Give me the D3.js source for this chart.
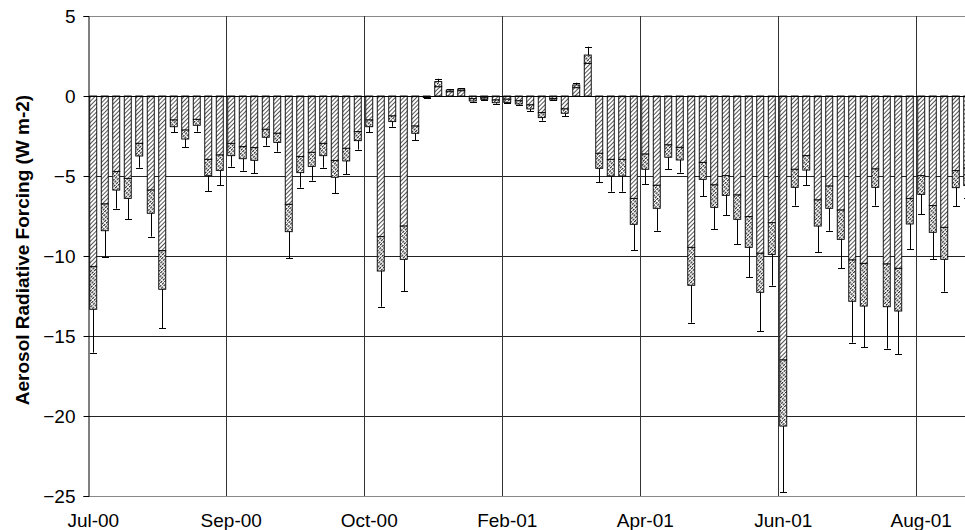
<!DOCTYPE html>
<html><head><meta charset="utf-8">
<script src="https://cdn.jsdelivr.net/npm/d3@7"></script>
<style>
html,body{margin:0;padding:0;background:#fff;overflow:hidden}
svg{display:block;font-family:"Liberation Sans",Arial,Helvetica,sans-serif}
</style>
</head><body>
<svg id="chart" width="965" height="530"></svg>
<script>
// Observation index (one bar per observation)
const categories = d3.range(1, 78);
// End of the first (lightly hatched) segment, W m-2
const firstSegment = [
 -10.67,-6.75,-4.73,-5.15,-2.96,-5.88,-9.67,-1.5,-2.13,-1.46,-3.96,-3.69,
 -2.96,-3.17,-3.23,-2.08,-2.33,-6.77,-3.79,-3.52,-2.96,-4.04,-3.27,-2.23,
 -1.5,-8.79,-1.25,-8.13,-1.88,-0.05,0.58,0.27,0.33,-0.17,-0.12,-0.25,
 -0.2,-0.3,-0.56,-1.04,-0.15,-0.81,0.52,2.04,-3.58,-3.96,-3.96,-6.4,
 -3.63,-5.58,-3.06,-3.21,-9.46,-4.15,-5.56,-4.98,-6.19,-7.54,-9.83,-7.92,
 -16.5,-4.58,-3.73,-6.5,-5.63,-7.13,-10.25,-10.46,-4.56,-10.5,-10.77,-6.4,
 -4.98,-6.85,-8.21,-4.67,-4.5
];
// Total forcing (end of the densely hatched segment), W m-2
const totalForcing = [
 -13.33,-8.42,-5.88,-6.4,-3.75,-7.33,-12.08,-1.92,-2.69,-1.83,-4.98,-4.65,
 -3.73,-3.92,-4.02,-2.58,-2.9,-8.48,-4.79,-4.4,-3.73,-5.08,-4.06,-2.79,
 -1.92,-10.94,-1.6,-10.21,-2.33,-0.1,0.9,0.38,0.44,-0.31,-0.21,-0.42,
 -0.4,-0.5,-0.81,-1.35,-0.25,-1.08,0.69,2.56,-4.52,-5.0,-5.0,-8.02,
 -4.58,-7.02,-3.83,-4.0,-11.83,-5.21,-6.96,-6.21,-7.71,-9.46,-12.27,-9.9,
 -20.63,-5.71,-4.63,-8.13,-7.02,-8.96,-12.83,-13.13,-5.71,-13.17,-13.44,-8.0,
 -6.15,-8.52,-10.21,-5.73,-5.6
];
// Outer end of the one-sided error bar, W m-2
const errorLimit = [
 -16.04,-10.08,-7.04,-7.71,-4.48,-8.79,-14.5,-2.27,-3.19,-2.23,-5.94,-5.56,
 -4.42,-4.67,-4.83,-3.1,-3.48,-10.15,-5.73,-5.29,-4.48,-6.08,-4.88,-3.35,
 -2.27,-13.17,-1.92,-12.19,-2.75,-0.12,1.08,0.42,0.48,-0.35,-0.24,-0.48,
 -0.45,-0.54,-0.94,-1.54,-0.28,-1.25,0.83,3.08,-5.4,-5.98,-5.98,-9.63,
 -5.5,-8.42,-4.58,-4.79,-14.17,-6.25,-8.31,-7.44,-9.25,-11.33,-14.69,-11.85,
 -24.75,-6.85,-5.56,-9.75,-8.42,-10.77,-15.42,-15.71,-6.85,-15.79,-16.15,-9.58,
 -7.4,-10.21,-12.23,-6.88,-6.4
];
const tickCategories = [1, 13, 25, 37, 49, 61, 73];
const tickLabels = ["Jul-00","Sep-00","Oct-00","Feb-01","Apr-01","Jun-01","Aug-01"];
const yTickValues = [5, 0, -5, -10, -15, -20, -25];
const yTitle = "Aerosol Radiative Forcing (W m-2)";

const svg = d3.select("#chart");
const plotLeft = 87.5, plotTop = 16, plotBottom = 496;
const step = 11.5;

const x = d3.scaleBand().domain(categories)
  .range([plotLeft, plotLeft + step * categories.length]).padding(0);
const y = d3.scaleLinear().domain([-25, 5]).range([plotBottom, plotTop]);
const barW = 7;

const defs = svg.append("defs");
const pA = defs.append("pattern").attr("id","hatchA").attr("patternUnits","userSpaceOnUse")
  .attr("width",3).attr("height",3).attr("patternTransform","rotate(45)");
pA.append("rect").attr("width",3).attr("height",3).attr("fill","#fff");
pA.append("line").attr("x1",0.5).attr("x2",0.5).attr("y1",0).attr("y2",3)
  .attr("stroke","#555").attr("stroke-width",1);
const pB = defs.append("pattern").attr("id","hatchB").attr("patternUnits","userSpaceOnUse")
  .attr("width",2.3).attr("height",3.5).attr("patternTransform","rotate(45)");
pB.append("rect").attr("width",2.3).attr("height",3.5).attr("fill","#fff");
pB.append("line").attr("x1",0.6).attr("x2",0.6).attr("y1",0).attr("y2",2.6)
  .attr("stroke","#222").attr("stroke-width",1.1);

const clip = defs.append("clipPath").attr("id","plotClip");
clip.append("rect").attr("x",0).attr("y",0).attr("width",965).attr("height",530);

// horizontal gridlines
svg.append("g").selectAll("line").data(yTickValues).join("line")
  .attr("x1", plotLeft).attr("x2", 965)
  .attr("y1", d => Math.round(y(d)) + 0.5).attr("y2", d => Math.round(y(d)) + 0.5)
  .attr("stroke", d => (d === 5 || d === -25) ? "#888" : "#222")
  .attr("stroke-width", 1);

// vertical gridlines at category boundaries
svg.append("g").selectAll("line").data(tickCategories.slice(1)).join("line")
  .attr("x1", d => Math.round(x(d)) + 0.5).attr("x2", d => Math.round(x(d)) + 0.5)
  .attr("y1", plotTop).attr("y2", plotBottom)
  .attr("stroke", "#333").attr("stroke-width", 1);

const cx = d => x(d) + x.bandwidth() / 2;
const data = categories.map((c, i) => ({c, a: firstSegment[i], b: totalForcing[i], e: errorLimit[i]}));

const gBars = svg.append("g").attr("clip-path","url(#plotClip)");
gBars.selectAll("rect.a").data(data).join("rect").attr("class","a")
  .attr("x", d => cx(d.c) - barW/2).attr("width", barW)
  .attr("y", d => Math.min(y(0), y(d.a))).attr("height", d => Math.abs(y(d.a) - y(0)))
  .attr("fill","url(#hatchA)").attr("stroke","#000").attr("stroke-width",0.9);
gBars.selectAll("rect.b").data(data).join("rect").attr("class","b")
  .attr("x", d => cx(d.c) - barW/2).attr("width", barW)
  .attr("y", d => Math.min(y(d.a), y(d.b))).attr("height", d => Math.abs(y(d.b) - y(d.a)))
  .attr("fill","url(#hatchB)").attr("stroke","#000").attr("stroke-width",0.9);
gBars.selectAll("line.err").data(data).join("line").attr("class","err")
  .attr("x1", d => Math.round(cx(d.c)) + 0.5).attr("x2", d => Math.round(cx(d.c)) + 0.5)
  .attr("y1", d => y(d.b)).attr("y2", d => y(d.e))
  .attr("stroke","#000").attr("stroke-width",1);
gBars.selectAll("line.cap").data(data).join("line").attr("class","cap")
  .attr("x1", d => Math.round(cx(d.c)) + 0.5 - 3.5).attr("x2", d => Math.round(cx(d.c)) + 0.5 + 3.5)
  .attr("y1", d => Math.round(y(d.e)) + 0.5).attr("y2", d => Math.round(y(d.e)) + 0.5)
  .attr("stroke","#000").attr("stroke-width",1);

// zero line
svg.append("line").attr("x1", plotLeft).attr("x2", 965)
  .attr("y1", Math.round(y(0)) + 0.5).attr("y2", Math.round(y(0)) + 0.5)
  .attr("stroke","#000").attr("stroke-width",1);

// y axis
const yAxis = d3.axisLeft(y).tickValues(yTickValues).tickSize(5).tickPadding(8).tickFormat(d3.format("d"));
const gy = svg.append("g").attr("transform", `translate(${Math.round(plotLeft)+0.5},0)`).call(yAxis);
gy.select(".domain").attr("stroke","#000");
gy.selectAll(".tick line").attr("stroke","#000");
gy.selectAll("text").attr("font-size",19).attr("fill","#000")
  .attr("font-family",'"Liberation Sans",Arial,sans-serif');

// x labels
svg.append("g").selectAll("text").data(tickCategories).join("text")
  .attr("x", (d) => cx(d)).attr("y", 527)
  .attr("text-anchor","middle").attr("font-size",19).attr("fill","#000")
  .text((d, i) => tickLabels[i]);

// y title
svg.append("text").attr("transform", `translate(29,250) rotate(-90)`)
  .attr("text-anchor","middle").attr("font-size",19).attr("font-weight","bold")
  .attr("fill","#000").text(yTitle);
</script>
</body></html>
